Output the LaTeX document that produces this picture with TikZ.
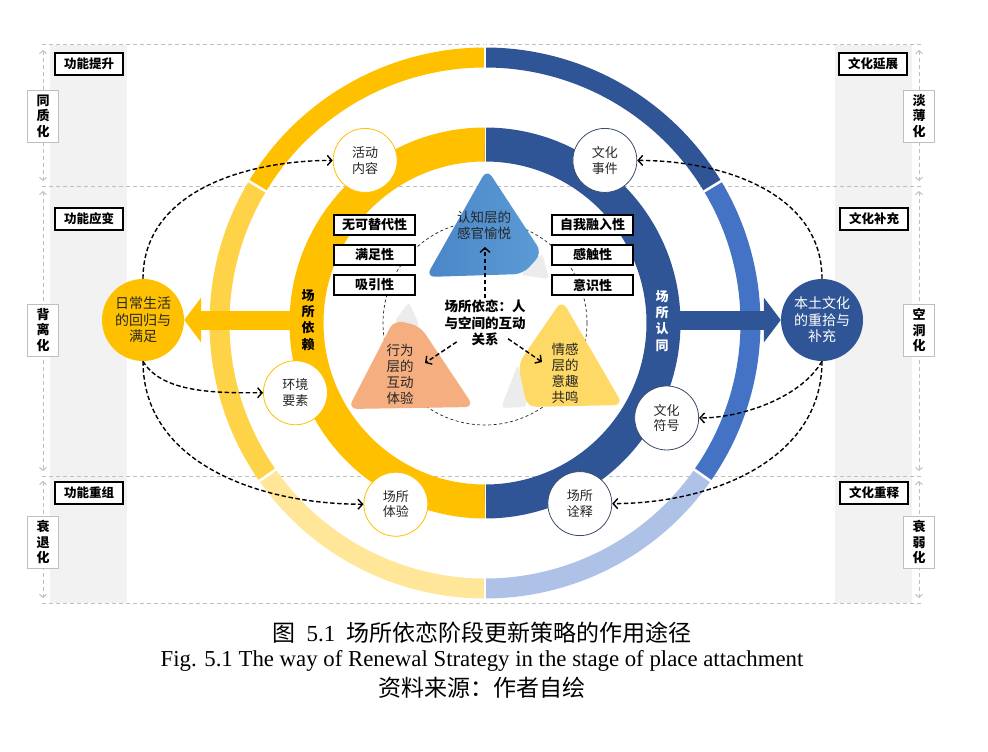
\documentclass[tikz,border=0pt]{standalone}
\usepackage{fontspec}
\setmainfont{Liberation Serif}
\newfontfamily\cjk{Noto Sans CJK SC}
\usepackage{tikz}
\usetikzlibrary{calc}
\usetikzlibrary{positioning}
\usetikzlibrary{arrows.meta}
\usetikzlibrary{shadows}
\definecolor{ylwA}{HTML}{FFC000}
\definecolor{ylwB}{HTML}{FFD347}
\definecolor{ylwC}{HTML}{FFE699}
\definecolor{bluA}{HTML}{2F5597}
\definecolor{bluB}{HTML}{4472C4}
\definecolor{bluC}{HTML}{AEC2E8}
\definecolor{triBlue}{HTML}{5B9BD5}
\definecolor{triBlueDk}{HTML}{4A86C8}
\definecolor{triOrange}{HTML}{F4AE80}
\definecolor{triYellow}{HTML}{FFD966}
\definecolor{curlgray}{HTML}{ECECEC}
\definecolor{bandgray}{HTML}{F2F2F2}
\definecolor{guidegray}{HTML}{BFBFBF}
\definecolor{txtdark}{HTML}{262626}
\definecolor{spotblue}{HTML}{3B4A6B}
\tikzstyle{spotnode} = [circle, fill=white, minimum size=64pt, inner sep=0pt, line width=0.8pt, align=center, text=txtdark, font=\cjk\fontsize{13}{15.5}\selectfont]
\tikzstyle{spotL} = [draw=ylwA]
\tikzstyle{spotR} = [draw=spotblue]
\tikzstyle{bignode} = [circle, minimum size=82pt, inner sep=0pt, align=center, font=\cjk\fontsize{14}{16.5}\selectfont]
\tikzstyle{traitbox} = [draw, line width=1.1pt, fill=white, minimum width=81pt, minimum height=20pt, inner sep=0pt, font=\cjk\bfseries\fontsize{13}{15}\selectfont, drop shadow={shadow xshift=1.2pt, shadow yshift=-1.2pt, fill=black!30}]
\tikzstyle{stagebox} = [draw, line width=1.1pt, fill=white, minimum width=68pt, minimum height=22pt, inner sep=0pt, font=\cjk\bfseries\fontsize{12.5}{15}\selectfont, drop shadow={shadow xshift=1.2pt, shadow yshift=-1.2pt, fill=black!30}]
\tikzstyle{trendbox} = [draw=guidegray, line width=0.8pt, fill=white, minimum width=31pt, minimum height=52pt, inner sep=0pt, align=center, font=\cjk\bfseries\fontsize{13}{15.5}\selectfont]
\tikzstyle{ringlabel} = [align=center, inner sep=0pt, font=\cjk\bfseries\fontsize{13}{16.3}\selectfont]
\tikzstyle{tritext} = [align=center, inner sep=1pt, text=txtdark, font=\cjk\fontsize{13.5}{16}\selectfont]
\tikzstyle{corenode} = [align=center, inner sep=1pt, font=\cjk\bfseries\fontsize{13.5}{16.5}\selectfont]
\tikzstyle{guideline} = [guidegray, line width=1pt, dash pattern=on 4pt off 3pt]
\tikzstyle{guidetip} = [{Straight Barb[length=3pt,width=7pt]}-{Straight Barb[length=3pt,width=7pt]}]
\tikzstyle{linkarrow} = [black, line width=1.4pt, dash pattern=on 4.5pt off 2.5pt, -{Straight Barb[length=4.5pt,width=10pt]}]
\tikzstyle{bandarrow} = [line width=19pt, -{Triangle[width=44pt,length=17pt]}]

\begin{document}
\begin{tikzpicture}[x=1pt, y=-1pt]
    \useasboundingbox (0,0) rectangle (988,752);
    \coordinate (O) at (485,323);

    % side bands and stage guides
    \fill[bandgray] (50,45) rectangle (127,603);
    \fill[bandgray] (835,45) rectangle (912,603);
    \foreach \y in {45,186,476,603}
        \draw[guideline] (42,\y) -- (922,\y);
    \foreach \a/\b in {50/181,191/471,481/598} {
        \draw[guideline, guidetip] (43,\a) -- (43,\b);
        \draw[guideline, guidetip] (919,\a) -- (919,\b);
    }

    % outer ring
    \foreach \a/\b/\c in {211/270/ylwA, 145/211/ylwB, 90/145/ylwC, -90/-31/bluA, -31/35/bluB, 35/90/bluC}
        \draw[line width=20pt, \c] ($(O)+(\a:265.5)$) arc[start angle=\a, end angle=\b, radius=265.5];
    \foreach \g in {211,145,-31,35,90,270}
        \draw[white, line width=2.5pt] ($(O)+(\g:252)$) -- ($(O)+(\g:279)$);

    % dashed inner circle
    \draw[black!85, line width=0.7pt, dash pattern=on 3pt off 2.5pt] (O) circle[radius=102];

    % inner ring
    \draw[line width=34pt, ylwA] ($(O)+(90:178.5)$) arc[start angle=90, end angle=270, radius=178.5];
    \draw[line width=34pt, bluA] ($(O)+(-90:178.5)$) arc[start angle=-90, end angle=90, radius=178.5];
    \draw[white, line width=0.8pt] ($(O)+(-90:160)$) -- ($(O)+(-90:197)$);
    \draw[white, line width=0.8pt] ($(O)+(90:160)$) -- ($(O)+(90:197)$);

    % big circles
    \node[bignode, fill=ylwA, text=txtdark] (daily) at (143,320) {日常生活\\的回归与\\满足};
    \node[bignode, fill=bluA, text=white] (culture) at (822,320) {本土文化\\的重拾与\\补充};
    \draw[bandarrow, ylwA] (300,320) -- (daily);
    \draw[bandarrow, bluA] (670,320) -- (culture);

    % triangles
    \fill[curlgray, rounded corners=4pt] (520,275) -- (542,253) -- (549,279) -- cycle;
    \shade[left color=triBlueDk, right color=triBlue, rounded corners=9pt] (487,169) -- (426,277) -- (523,274) -- (542,253) -- cycle;
    \fill[curlgray, rounded corners=4pt] (394,322) -- (409,302) -- (420,327) -- cycle;
    \fill[triOrange, rounded corners=9pt] (394,320) -- (348,409) -- (474,407) -- (420,326) -- cycle;
    \fill[curlgray, rounded corners=4pt] (518,364) -- (527,407) -- (501,408) -- cycle;
    \fill[triYellow, rounded corners=9pt] (562,300) -- (623,405) -- (527,407) -- (518,364) -- cycle;
    \node[tritext] (tcog) at (484,225) {认知层的\\感官愉悦};
    \node[tritext] (tbeh) at (400,374) {行为\\层的\\互动\\体验};
    \node[tritext] (temo) at (565,373) {情感\\层的\\意趣\\共鸣};

    % core relation
    \node[corenode] (core) at (485,323) {场所依恋：人\\与空间的互动\\关系};
    \coordinate (cogtip) at (485,247);
    \coordinate (behtip) at (425,363);
    \coordinate (emotip) at (542,362);
    \draw[linkarrow, shorten <=25pt] (core.center) -- (cogtip);
    \draw[linkarrow, shorten <=34pt] (core.center) -- (behtip);
    \draw[linkarrow, shorten <=28pt] (core.center) -- (emotip);

    % trait boxes
    \node[traitbox] (bL1) at (374.5,225) {无可替代性};
    \node[traitbox] (bL2) at (374.5,255) {满足性};
    \node[traitbox] (bL3) at (374.5,285) {吸引性};
    \node[traitbox] (bR1) at (592.5,225) {自我融入性};
    \node[traitbox] (bR2) at (592.5,255) {感触性};
    \node[traitbox] (bR3) at (592.5,285) {意识性};

    % ring labels
    \node[ringlabel, text=black] (depend) at (308,320) {场\\所\\依\\赖};
    \node[ringlabel, text=white] (ident) at (662,321) {场\\所\\认\\同};

    % spots on the ring
    \node[spotnode, spotL] (act) at ($(O)+(233.6:202)$) {活动\\内容};
    \node[spotnode, spotL] (env) at ($(O)+(159.8:202)$) {环境\\要素};
    \node[spotnode, spotL] (exp) at ($(O)+(116.2:202)$) {场所\\体验};
    \node[spotnode, spotR] (evt) at ($(O)+(-53.6:202)$) {文化\\事件};
    \node[spotnode, spotR] (sym) at ($(O)+(27.6:205)$) {文化\\符号};
    \node[spotnode, spotR] (interp) at ($(O)+(62.3:204)$) {场所\\诠释};

    % links
    \draw[linkarrow] (daily.north) to[out=90, in=180] (act.west);
    \draw[linkarrow] (daily.south) to[out=-60, in=180, looseness=0.8] (env.west);
    \draw[linkarrow] (daily.south) to[out=-90, in=180] (exp.west);
    \draw[linkarrow] (culture.north) to[out=90, in=0] (evt.east);
    \draw[linkarrow] (culture.south) to[out=-120, in=0, looseness=0.8] (sym.east);
    \draw[linkarrow] (culture.south) to[out=-90, in=0] (interp.east);

    % stage boxes
    \node[stagebox] (fL1) at (89,64) {功能提升};
    \node[stagebox] (fL2) at (89,219) {功能应变};
    \node[stagebox] (fL3) at (89,493) {功能重组};
    \node[stagebox] (fR1) at (873,64) {文化延展};
    \node[stagebox] (fR2) at (874,219) {文化补充};
    \node[stagebox] (fR3) at (874,493) {文化重释};
    \node[trendbox] (vL1) at (43,116) {同\\质\\化};
    \node[trendbox] (vL2) at (43,330) {背\\离\\化};
    \node[trendbox] (vL3) at (43,542) {衰\\退\\化};
    \node[trendbox] (vR1) at (919,116) {淡\\薄\\化};
    \node[trendbox] (vR2) at (919,330) {空\\洞\\化};
    \node[trendbox] (vR3) at (919,542) {衰\\弱\\化};

    % caption
    \node[font=\cjk\fontsize{23}{26}\selectfont] (figcn) at (482,633) {图\enspace{\rmfamily 5.1}\enspace 场所依恋阶段更新策略的作用途径};
    \node[font=\fontsize{22.8}{26}\selectfont] (figen) at (482,661) {Fig. 5.1 The way of Renewal Strategy in the stage of place attachment};
    \node[font=\cjk\fontsize{23}{26}\selectfont] (figsrc) at (482,688) {资料来源：作者自绘};
\end{tikzpicture}
\end{document}
